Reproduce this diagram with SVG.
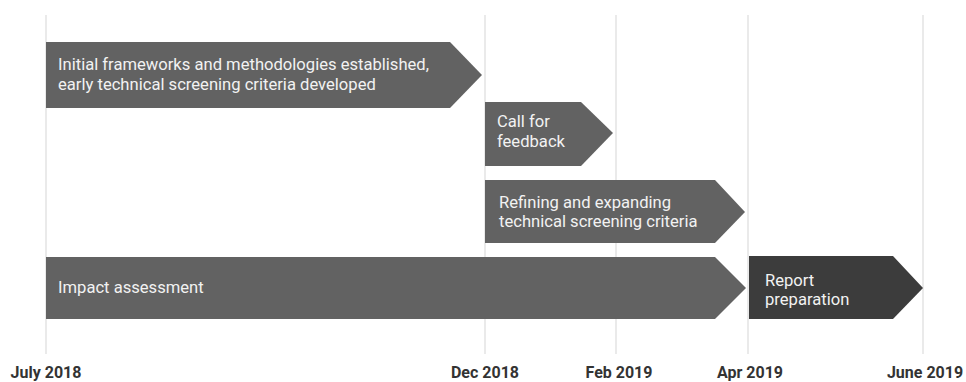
<svg xmlns="http://www.w3.org/2000/svg" width="966" height="382" viewBox="0 0 966 382">
<style>
.grid{stroke:#dcdcdc;stroke-width:1.2;fill:none}
.bar{fill:#626262}
.bar.dark{fill:#3c3c3c}
.t{font-family:Roboto,"Liberation Sans",sans-serif;font-size:16.6px;fill:#f2f2f2}
.lab{font-family:Roboto,"Liberation Sans",sans-serif;font-size:16px;font-weight:bold;fill:#333;text-anchor:middle}
</style>
<rect width="966" height="382" fill="#fff"/>
<g id="connectors">
<line class="grid" x1="46" y1="15" x2="46" y2="354"/>
<line class="grid" x1="485" y1="15" x2="485" y2="354"/>
<line class="grid" x1="616" y1="15" x2="616" y2="354"/>
<line class="grid" x1="748" y1="15" x2="748" y2="354"/>
<line class="grid" x1="923" y1="15" x2="923" y2="354"/>
</g>
<g id="node-initial">
<polygon class="bar" points="46,42 450,42 482,75 450,108 46,108"/>
<text class="t" x="58" y="70">Initial frameworks and methodologies established,</text>
<text class="t" x="58" y="90">early technical screening criteria developed</text>
</g>
<g id="node-call">
<polygon class="bar" points="485,102 581,102 613,133 581,166 485,166"/>
<text class="t" x="497" y="127">Call for</text>
<text class="t" x="497" y="147">feedback</text>
</g>
<g id="node-refining">
<polygon class="bar" points="485,180 715,180 745,212 715,243 485,243"/>
<text class="t" x="499" y="208">Refining and expanding</text>
<text class="t" x="499" y="227">technical screening criteria</text>
</g>
<g id="node-impact">
<polygon class="bar" points="46,257 715,257 746,288 715,319 46,319"/>
<text class="t" x="58" y="293">Impact assessment</text>
</g>
<g id="node-report">
<polygon class="bar dark" points="749,256 893,256 923,288 893,319 749,319"/>
<text class="t" x="765" y="286">Report</text>
<text class="t" x="765" y="305">preparation</text>
</g>
<g id="labels">
<text class="lab" x="46" y="378">July 2018</text>
<text class="lab" x="485" y="378">Dec 2018</text>
<text class="lab" x="619" y="378">Feb 2019</text>
<text class="lab" x="750" y="378">Apr 2019</text>
<text class="lab" x="925" y="378">June 2019</text>
</g>
</svg>
